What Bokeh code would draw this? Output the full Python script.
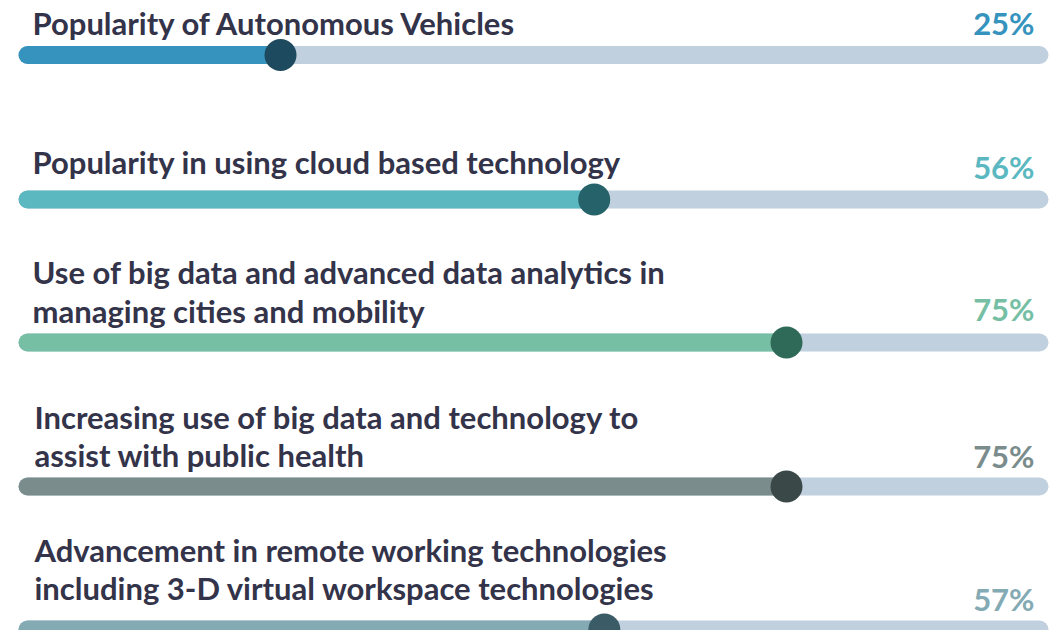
from bokeh.plotting import figure
from bokeh.models import Range1d
from bokeh.core.properties import value
from bokeh.embed import file_html
from bokeh.resources import INLINE

# ---- data ----
labels = [
    ["Popularity of Autonomous Vehicles"],
    ["Popularity in using cloud based technology"],
    ["Use of big data and advanced data analytics in", "managing cities and mobility"],
    ["Increasing use of big data and technology to", "assist with public health"],
    ["Advancement in remote working technologies", "including 3-D virtual workspace technologies"],
]
values = [25, 56, 75, 75, 57]
pct_labels = ["25%", "56%", "75%", "75%", "57%"]

# ---- styles / layout ----
bar_colors = ["#3593bd", "#5bb8c1", "#76bfa5", "#7a8c8c", "#84aab4"]
dot_colors = ["#1d4a5e", "#26626a", "#2f6a58", "#3b4848", "#3b5c66"]
pct_colors = ["#3593bd", "#5bb8c1", "#76bfa5", "#7a8c8c", "#84aab4"]
track_color = "#c0d0de"
text_color = "#33334a"

bar_y = [54.5, 199, 342, 486, 629]
TXT_SHIFT = -9
title_baselines = [[31], [170], [280, 319], [425, 463], [558, 596]]
title_offsets = [5, 5, 5, 7, 7]
pct_baselines = [31, 175, 317, 464, 607]

W, H = 1049, 630
px_per_pct = 10.12
x0_px = 27
p = figure(width=W, height=H, output_backend="svg", toolbar_location=None,
           x_range=Range1d(-x0_px / px_per_pct, (W - x0_px) / px_per_pct),
           y_range=Range1d(H, 0), min_border=0)
p.axis.visible = False
p.grid.visible = False
p.outline_line_color = None
p.background_fill_color = "white"

FONT = value("Lato")
FS = "31px"

for i, v in enumerate(values):
    y = bar_y[i]
    p.line([0, 100], [y, y], line_width=18, line_color=track_color, line_cap="round")
    p.line([0, v], [y, y], line_width=18, line_color=bar_colors[i], line_cap="round")
    p.scatter([v], [y], size=32, fill_color=dot_colors[i], line_color=None)
    for line, yb in zip(labels[i], title_baselines[i]):
        p.text([0], [yb + TXT_SHIFT], text=[line], text_font=FONT, text_font_style="bold",
               text_font_size=FS, text_color=text_color, text_baseline="alphabetic",
               text_align="left", x_offset=title_offsets[i])
    p.text([100], [pct_baselines[i] + TXT_SHIFT], text=[pct_labels[i]], text_font=FONT,
           text_font_style="bold", text_font_size=FS, text_color=pct_colors[i],
           text_baseline="alphabetic", text_align="right", x_offset=-5)

open("out.html", "w").write(file_html(p, INLINE))
